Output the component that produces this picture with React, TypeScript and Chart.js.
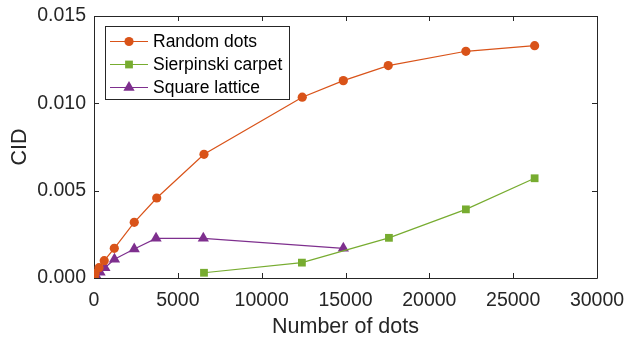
import React, { useEffect, useRef } from "react";
import { Chart, registerables } from "chart.js";

Chart.register(...registerables);

const randomX = [20, 60, 300, 610, 1210, 2400, 3740, 6560, 12420, 14870, 17550, 22180, 26280];
const randomY = [0.00007, 0.00027, 0.00059, 0.00099, 0.0017, 0.00319, 0.00458, 0.00708, 0.01035, 0.0113, 0.01216, 0.01298, 0.0133];
const carpetX = [6560, 12400, 17590, 22180, 26280];
const carpetY = [0.0003, 0.00088, 0.0023, 0.00393, 0.00571];
const latticeX = [20, 100, 360, 650, 1220, 2400, 3700, 6520, 14870];
const latticeY = [0.00007, 0.00017, 0.00033, 0.00059, 0.00107, 0.00166, 0.00227, 0.00227, 0.0017];
const seriesLabels = ["Random dots", "Sierpinski carpet", "Square lattice"];
const xTitle = "Number of dots";
const yTitle = "CID";

const FONT = "'Liberation Sans', Arial, Helvetica, sans-serif";
const AXIS = "#262626";

const zip = (xs: number[], ys: number[]) => xs.map((x, i) => ({ x, y: ys[i] }));

const framePlugin = {
  id: "frame",
  beforeDatasetsDraw(chart: any) {
    const { ctx, chartArea } = chart;
    const { left, right, top, bottom } = chartArea;
    const xs = chart.scales.x;
    const ys = chart.scales.y;
    ctx.save();
    ctx.strokeStyle = AXIS;
    ctx.lineWidth = 1;
    ctx.beginPath();
    ctx.rect(Math.round(left) + 0.5, Math.round(top) + 0.5, Math.round(right - left), Math.round(bottom - top));
    ctx.stroke();
    const tl = 5;
    ctx.beginPath();
    xs.ticks.forEach((t: any) => {
      const px = Math.round(xs.getPixelForValue(t.value)) + 0.5;
      ctx.moveTo(px, bottom);
      ctx.lineTo(px, bottom - tl);
      ctx.moveTo(px, top);
      ctx.lineTo(px, top + tl);
    });
    ys.ticks.forEach((t: any) => {
      const py = Math.round(ys.getPixelForValue(t.value)) + 0.5;
      ctx.moveTo(left, py);
      ctx.lineTo(left + tl, py);
      ctx.moveTo(right, py);
      ctx.lineTo(right - tl, py);
    });
    ctx.stroke();
    ctx.restore();
  },
};

const legendPlugin = {
  id: "customLegend",
  afterDraw(chart: any) {
    const { ctx } = chart;
    const bx = 105.5, by = 26.5, bw = 184, bh = 73;
    ctx.save();
    ctx.fillStyle = "#ffffff";
    ctx.fillRect(bx, by, bw, bh);
    ctx.strokeStyle = AXIS;
    ctx.lineWidth = 1;
    ctx.strokeRect(bx, by, bw, bh);
    const rows = [41.5, 64.5, 87.5];
    chart.data.datasets.forEach((ds: any, i: number) => {
      const y = rows[i];
      ctx.strokeStyle = ds.borderColor;
      ctx.lineWidth = ds.borderWidth;
      ctx.beginPath();
      ctx.moveTo(110, y);
      ctx.lineTo(148, y);
      ctx.stroke();
      ctx.fillStyle = ds.pointBackgroundColor;
      const r = ds.pointRadius;
      ctx.beginPath();
      if (ds.pointStyle === "circle") {
        ctx.arc(129, y, r, 0, Math.PI * 2);
      } else if (ds.pointStyle === "rect") {
        const s = Math.SQRT1_2 * r;
        ctx.rect(129 - s, y - s, 2 * s, 2 * s);
      } else {
        ctx.moveTo(129, y - r);
        ctx.lineTo(129 + 0.866 * r, y + r / 2);
        ctx.lineTo(129 - 0.866 * r, y + r / 2);
        ctx.closePath();
      }
      ctx.fill();
      ctx.fillStyle = "#000000";
      ctx.font = `17.5px ${FONT}`;
      ctx.textBaseline = "middle";
      ctx.textAlign = "left";
      ctx.fillText(ds.label, 153, y + 1);
    });
    ctx.restore();
  },
};

export default function App() {
  const ref = useRef<HTMLCanvasElement | null>(null);
  useEffect(() => {
    document.body.style.margin = "0";
    if (!ref.current) return;
    const chart = new Chart(ref.current, {
      type: "scatter",
      data: {
        datasets: [
          {
            label: seriesLabels[0],
            data: zip(randomX, randomY),
            showLine: true,
            borderColor: "#D95319",
            backgroundColor: "#D95319",
            pointBackgroundColor: "#D95319",
            borderWidth: 1.2,
            pointStyle: "circle",
            pointRadius: 4.6,
            pointBorderWidth: 0,
          },
          {
            label: seriesLabels[1],
            data: zip(carpetX, carpetY),
            showLine: true,
            borderColor: "#77AC30",
            backgroundColor: "#77AC30",
            pointBackgroundColor: "#77AC30",
            borderWidth: 1.2,
            pointStyle: "rect",
            pointRadius: 5.5,
            pointBorderWidth: 0,
          },
          {
            label: seriesLabels[2],
            data: zip(latticeX, latticeY),
            showLine: true,
            borderColor: "#7E2F8E",
            backgroundColor: "#7E2F8E",
            pointBackgroundColor: "#7E2F8E",
            borderWidth: 1.2,
            pointStyle: "triangle",
            pointRadius: 6.5,
            pointBorderWidth: 0,
          },
        ] as any,
      },
      options: {
        animation: false,
        responsive: false,
        events: [],
        layout: { padding: { left: 0, right: 30, top: 16, bottom: 0 } },
        plugins: {
          legend: { display: false },
          tooltip: { enabled: false },
        },
        scales: {
          x: {
            type: "linear",
            min: 0,
            max: 30000,
            grid: { display: false, drawTicks: false },
            border: { display: false },
            ticks: {
              stepSize: 5000,
              color: AXIS,
              font: { family: FONT, size: 19.5 },
              padding: 11,
              maxRotation: 0,
              autoSkip: false,
              callback: (v: any) => String(v),
            },
            title: {
              display: true,
              text: xTitle,
              color: AXIS,
              font: { family: FONT, size: 21.5, lineHeight: 1 },
              padding: 0,
            },
            afterFit: (s: any) => {
              s.height = 60;
              s.paddingRight = 0;
              s.paddingLeft = 0;
            },
          },
          y: {
            type: "linear",
            min: 0,
            max: 0.015,
            grid: { display: false, drawTicks: false },
            border: { display: false },
            ticks: {
              stepSize: 0.005,
              color: AXIS,
              font: { family: FONT, size: 19.5 },
              padding: 8,
              callback: (v: any) => Number(v).toFixed(3),
            },
            title: {
              display: true,
              text: yTitle,
              color: AXIS,
              font: { family: FONT, size: 21.5, lineHeight: 1 },
              padding: 9,
            },
            afterFit: (s: any) => {
              s.width = 94;
              s.paddingTop = 0;
              s.paddingBottom = 0;
            },
          },
        },
      },
      plugins: [framePlugin, legendPlugin],
    });
    return () => chart.destroy();
  }, []);
  return (
    <div style={{ width: 627, height: 338, position: "relative" }}>
      <canvas ref={ref} width={627} height={338} style={{ display: "block" }} />
    </div>
  );
}
